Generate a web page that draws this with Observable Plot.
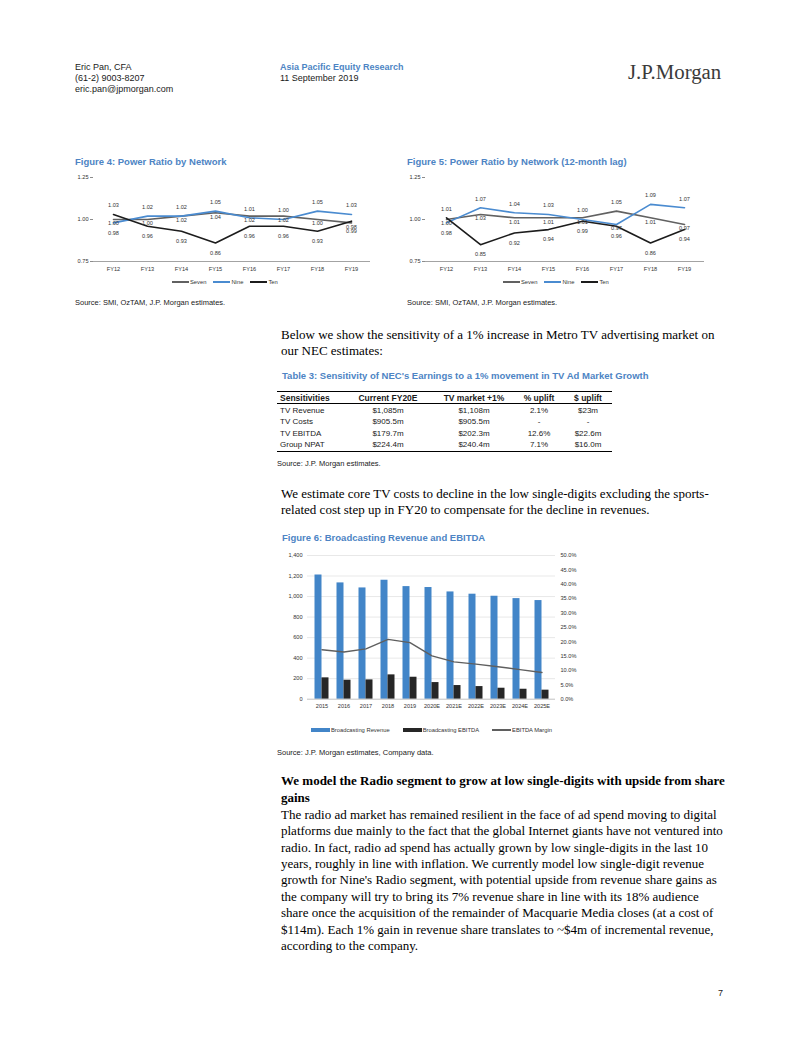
<!DOCTYPE html>
<html><head><meta charset="utf-8">
<script src="https://cdn.jsdelivr.net/npm/d3@7"></script>
<script src="https://cdn.jsdelivr.net/npm/@observablehq/plot@0.6"></script>
<style>
html,body{margin:0;padding:0;background:#fff;}
#page{position:relative;width:802px;height:1037px;overflow:hidden;background:#fff;font-family:"Liberation Sans",Arial,sans-serif;color:#1a1a1a;}
.t{position:absolute;white-space:nowrap;}
.hdr{font-size:9px;line-height:11px;}
.blue{color:#4d84c4;}
.title{font-weight:bold;font-size:9.5px;line-height:14px;color:#4d84c4;}
.src{font-size:7.5px;line-height:9px;color:#1a1a1a;}
.body{font-family:"Liberation Serif","Times New Roman",serif;font-size:13px;line-height:16.4px;color:#000;}
.legend{position:absolute;font-size:5.8px;line-height:8px;color:#333;display:flex;align-items:center;white-space:nowrap;}
.sw{display:inline-block;width:17px;margin-right:1px;}
.chart{position:absolute;}
#tbl{position:absolute;left:277px;top:390px;width:335px;height:64px;font-size:8px;}
#tbl .c{position:absolute;line-height:10px;white-space:nowrap;}
#tbl .h{font-weight:bold;font-size:8.5px;}
#tbl .ln{position:absolute;left:0;width:335px;background:#000;}
</style></head>
<body><div id="page">
  <div class="t hdr" style="left:75px;top:61.5px">Eric Pan, CFA</div>
  <div class="t hdr" style="left:75px;top:72.5px">(61-2) 9003-8207</div>
  <div class="t hdr" style="left:75px;top:83.5px">eric.pan@jpmorgan.com</div>
  <div class="t hdr blue" style="left:280px;top:61.5px;font-weight:bold">Asia Pacific Equity Research</div>
  <div class="t hdr" style="left:280px;top:72.5px">11 September 2019</div>
  <div class="t" style="left:628px;top:59.5px;font-family:'Liberation Serif',serif;font-size:20.8px;line-height:24px;color:#3a3a3a">J.P.Morgan</div>

  <div class="t title" style="left:75px;top:155px">Figure 4: Power Ratio by Network</div>
  <div class="t title" style="left:407px;top:155px">Figure 5: Power Ratio by Network (12-month lag)</div>
  <div id="fig4" class="chart" style="left:70px;top:170px"></div>
  <div id="fig5" class="chart" style="left:402px;top:170px"></div>
  <div id="leg4" class="legend" style="left:172px;top:277.5px"></div>
  <div id="leg5" class="legend" style="left:503px;top:277.5px"></div>
  <div class="t src" style="left:75px;top:297.5px">Source: SMI, OzTAM, J.P. Morgan estimates.</div>
  <div class="t src" style="left:407px;top:297.5px">Source: SMI, OzTAM, J.P. Morgan estimates.</div>

  <div class="t body" style="left:281px;top:326.5px">Below we show the sensitivity of a 1% increase in Metro TV advertising market on<br>our NEC estimates:</div>

  <div class="t title" style="left:282px;top:369px">Table 3: Sensitivity of NEC's Earnings to a 1% movement in TV Ad Market Growth</div>
  <div id="tbl"></div>
  <div class="t src" style="left:277px;top:458.5px">Source: J.P. Morgan estimates.</div>

  <div class="t body" style="left:281px;top:485.5px">We estimate core TV costs to decline in the low single-digits excluding the sports-<br>related cost step up in FY20 to compensate for the decline in revenues.</div>

  <div class="t title" style="left:282px;top:530.5px">Figure 6: Broadcasting Revenue and EBITDA</div>
  <div id="fig6" class="chart" style="left:270px;top:545px"></div>
  <div id="leg6" class="legend" style="left:311px;top:726px"></div>
  <div class="t src" style="left:277px;top:747.5px">Source: J.P. Morgan estimates, Company data.</div>

  <div class="t body" style="left:281px;top:772px;font-weight:bold;line-height:17px">We model the Radio segment to grow at low single-digits with upside from share<br>gains</div>
  <div class="t body" style="left:281px;top:806.8px">The radio ad market has remained resilient in the face of ad spend moving to digital<br>platforms due mainly to the fact that the global Internet giants have not ventured into<br>radio. In fact, radio ad spend has actually grown by low single-digits in the last 10<br>years, roughly in line with inflation. We currently model low single-digit revenue<br>growth for Nine's Radio segment, with potential upside from revenue share gains as<br>the company will try to bring its 7% revenue share in line with its 18% audience<br>share once the acquisition of the remainder of Macquarie Media closes (at a cost of<br>$114m). Each 1% gain in revenue share translates to ~$4m of incremental revenue,<br>according to the company.</div>

  <div class="t hdr" style="left:718px;top:987.5px">7</div>
</div>
<script>
// ---------- Data ----------
const years = ["FY12","FY13","FY14","FY15","FY16","FY17","FY18","FY19"];
const networks = ["Seven","Nine","Ten"];
const netColors = ["#616161","#4a8bd0","#1c1c1c"];
const ratioTicks = [0.75, 1.00, 1.25];

// Figure 4: Power Ratio by Network
const fig4Seven = [1.00, 1.00, 1.02, 1.04, 1.02, 1.02, 1.00, 0.98];
const fig4Nine  = [0.98, 1.02, 1.02, 1.05, 1.01, 1.00, 1.05, 1.03];
const fig4Ten   = [1.03, 0.96, 0.93, 0.86, 0.96, 0.96, 0.93, 0.99];

// Figure 5: Power Ratio by Network (12-month lag)
const fig5Seven = [1.00, 1.03, 1.01, 1.01, 1.01, 1.05, 1.01, 0.97];
const fig5Nine  = [0.98, 1.07, 1.04, 1.03, 1.00, 0.97, 1.09, 1.07];
const fig5Ten   = [1.01, 0.85, 0.92, 0.94, 0.99, 0.96, 0.86, 0.94];

// Figure 6: Broadcasting Revenue and EBITDA
const fyLabels = ["2015","2016","2017","2018","2019","2020E","2021E","2022E","2023E","2024E","2025E"];
const revenue  = [1210, 1133, 1084, 1159, 1097, 1088, 1045, 1023, 1003, 980, 961];
const ebitda   = [208, 185, 188, 237, 214, 162, 133, 123, 107, 97, 88];
const marginPct = [17.2, 16.4, 17.5, 20.8, 19.7, 15.1, 13.0, 12.2, 11.3, 10.3, 9.3];
const leftTicks = [0, 200, 400, 600, 800, 1000, 1200, 1400];
const rightTicks = [0, 5, 10, 15, 20, 25, 30, 35, 40, 45, 50];
const fig6Series = ["Broadcasting Revenue", "Broadcasting EBITDA", "EBITDA Margin"];
const fig6Colors = ["#4285c8", "#262626", "#5f5f5f"];

// Table 3
const tblHeader = ["Sensitivities", "Current FY20E", "TV market +1%", "% uplift", "$ uplift"];
const tblRows = [
  ["TV Revenue", "$1,085m", "$1,108m", "2.1%", "$23m"],
  ["TV Costs", "$905.5m", "$905.5m", "-", "-"],
  ["TV EBITDA", "$179.7m", "$202.3m", "12.6%", "$22.6m"],
  ["Group NPAT", "$224.4m", "$240.4m", "7.1%", "$16.0m"]
];

const font = "'Liberation Sans', Arial, sans-serif";

function powerChart(seven, nine, ten, width) {
  const byNet = {Seven: seven, Nine: nine, Ten: ten};
  const rows = [];
  networks.forEach(n => years.forEach((y, j) => rows.push({year: y, net: n, v: byNet[n][j]})));
  const role = {};
  years.forEach((y, j) => {
    const s = seven[j], n = nine[j], t = ten[j];
    const mx = Math.max(s, n, t);
    const top = n >= mx - 0.02 ? "Nine" : (t === mx ? "Ten" : "Seven");
    const bottom = top === "Ten" ? (s < n ? "Seven" : "Nine") : "Ten";
    networks.forEach(k => role[y + k] = k === top ? "top" : k === bottom ? "bottom" : "mid");
  });
  const lab = r => rows.filter(d => role[d.year + d.net] === r);
  const txt = {x: "year", y: "v", text: d => d.v.toFixed(2), fill: "#333", fontSize: 5.6};
  return Plot.plot({
    width, height: 106, marginLeft: 23, marginRight: 0, marginTop: 7, marginBottom: 15,
    style: {background: "transparent", fontFamily: font, fontSize: "5.6px", color: "#333", overflow: "visible"},
    x: {type: "point", domain: years, padding: 0.5},
    y: {domain: [0.75, 1.25]},
    color: {domain: networks, range: netColors},
    marks: [
      Plot.ruleY([0.75], {stroke: "#8c8c8c", strokeWidth: 0.8}),
      Plot.axisY({ticks: ratioTicks, tickFormat: d3.format(".2f"), tickSize: 3, tickPadding: 2, line: true, stroke: "#8c8c8c", label: null}),
      Plot.axisX({tickSize: 0, tickPadding: 6, label: null}),
      Plot.lineY(rows, {x: "year", y: "v", z: "net", stroke: "net", strokeWidth: 1.6}),
      Plot.text(lab("top"), {...txt, dy: -9}),
      Plot.text(lab("mid"), {...txt, dy: 4}),
      Plot.text(lab("bottom"), {...txt, dy: 10})
    ]
  });
}

document.getElementById("fig4").append(powerChart(fig4Seven, fig4Nine, fig4Ten, 300));
document.getElementById("fig5").append(powerChart(fig5Seven, fig5Nine, fig5Ten, 302));

function lineLegend(id) {
  const el = document.getElementById(id);
  networks.forEach((n, i) => {
    const item = document.createElement("span");
    item.style.display = "inline-flex"; item.style.alignItems = "center"; item.style.marginRight = "7px";
    item.innerHTML = `<span class="sw" style="height:2px;background:${netColors[i]}"></span>${n}`;
    el.append(item);
  });
}
lineLegend("leg4"); lineLegend("leg5");

// Figure 6
const k = 1400 / 50;
const fig6Rows = fyLabels.map((y, i) => ({year: y, rev: revenue[i], ebit: ebitda[i], m: marginPct[i]}));
const fig6 = Plot.plot({
  width: 320, height: 170, marginLeft: 37, marginRight: 35, marginTop: 10, marginBottom: 16.3,
  style: {background: "transparent", fontFamily: font, fontSize: "5.6px", color: "#333", overflow: "visible"},
  x: {type: "band", domain: fyLabels, paddingInner: 0.69, paddingOuter: 0.345},
  y: {domain: [0, 1400]},
  marks: [
    Plot.gridY({ticks: leftTicks.slice(1), stroke: "#d9d9d9", strokeOpacity: 1, strokeWidth: 0.6}),
    Plot.axisY({ticks: leftTicks, tickFormat: d3.format(","), tickSize: 0, tickPadding: 5, label: null}),
    Plot.axisY({anchor: "right", ticks: rightTicks.map(p => p * k), tickFormat: d => (d / k).toFixed(1) + "%", tickSize: 0, tickPadding: 5, label: null}),
    Plot.axisX({tickSize: 0, tickPadding: 5, label: null}),
    Plot.barY(fig6Rows, {x: "year", y: "rev", fill: fig6Colors[0], dx: -3.5}),
    Plot.barY(fig6Rows, {x: "year", y: "ebit", fill: fig6Colors[1], dx: 3.5}),
    Plot.ruleY([0], {stroke: "#a6a6a6", strokeWidth: 0.7}),
    Plot.lineY(fig6Rows, {x: "year", y: d => d.m * k, stroke: fig6Colors[2], strokeWidth: 1.4})
  ]
});
document.getElementById("fig6").append(fig6);

(function () {
  const el = document.getElementById("leg6");
  const h = [3.5, 3.5, 1.5];
  const gaps = [13, 13, 0];
  fig6Series.forEach((n, i) => {
    const item = document.createElement("span");
    item.style.display = "inline-flex"; item.style.alignItems = "center"; item.style.marginRight = gaps[i] + "px";
    item.innerHTML = `<span class="sw" style="width:19px;height:${h[i]}px;background:${fig6Colors[i]}"></span>${n}`;
    el.append(item);
  });
})();

// Table 3
(function () {
  const el = document.getElementById("tbl");
  const colX = [3, 111, 197, 262, 311]; // centers (first is left edge)
  const rowY = [7.7, 20.5, 32, 43.5, 55];
  const addCell = (txt, ci, y, cls) => {
    const d = document.createElement("div");
    d.className = "c" + (cls ? " " + cls : "");
    d.textContent = txt;
    if (ci === 0) { d.style.left = colX[0] + "px"; }
    else { d.style.left = (colX[ci] - 40) + "px"; d.style.width = "80px"; d.style.textAlign = "center"; }
    d.style.top = (y - 5) + "px";
    el.append(d);
  };
  tblHeader.forEach((h, i) => addCell(h, i, rowY[0], "h"));
  tblRows.forEach((r, ri) => r.forEach((v, ci) => addCell(v, ci, rowY[ri + 1])));
  [[1.2, 1.3], [13.6, 0.8], [61, 0.8]].forEach(([y, w]) => {
    const l = document.createElement("div");
    l.className = "ln"; l.style.top = (y - w / 2) + "px"; l.style.height = w + "px";
    el.append(l);
  });
})();
</script>
</body></html>
